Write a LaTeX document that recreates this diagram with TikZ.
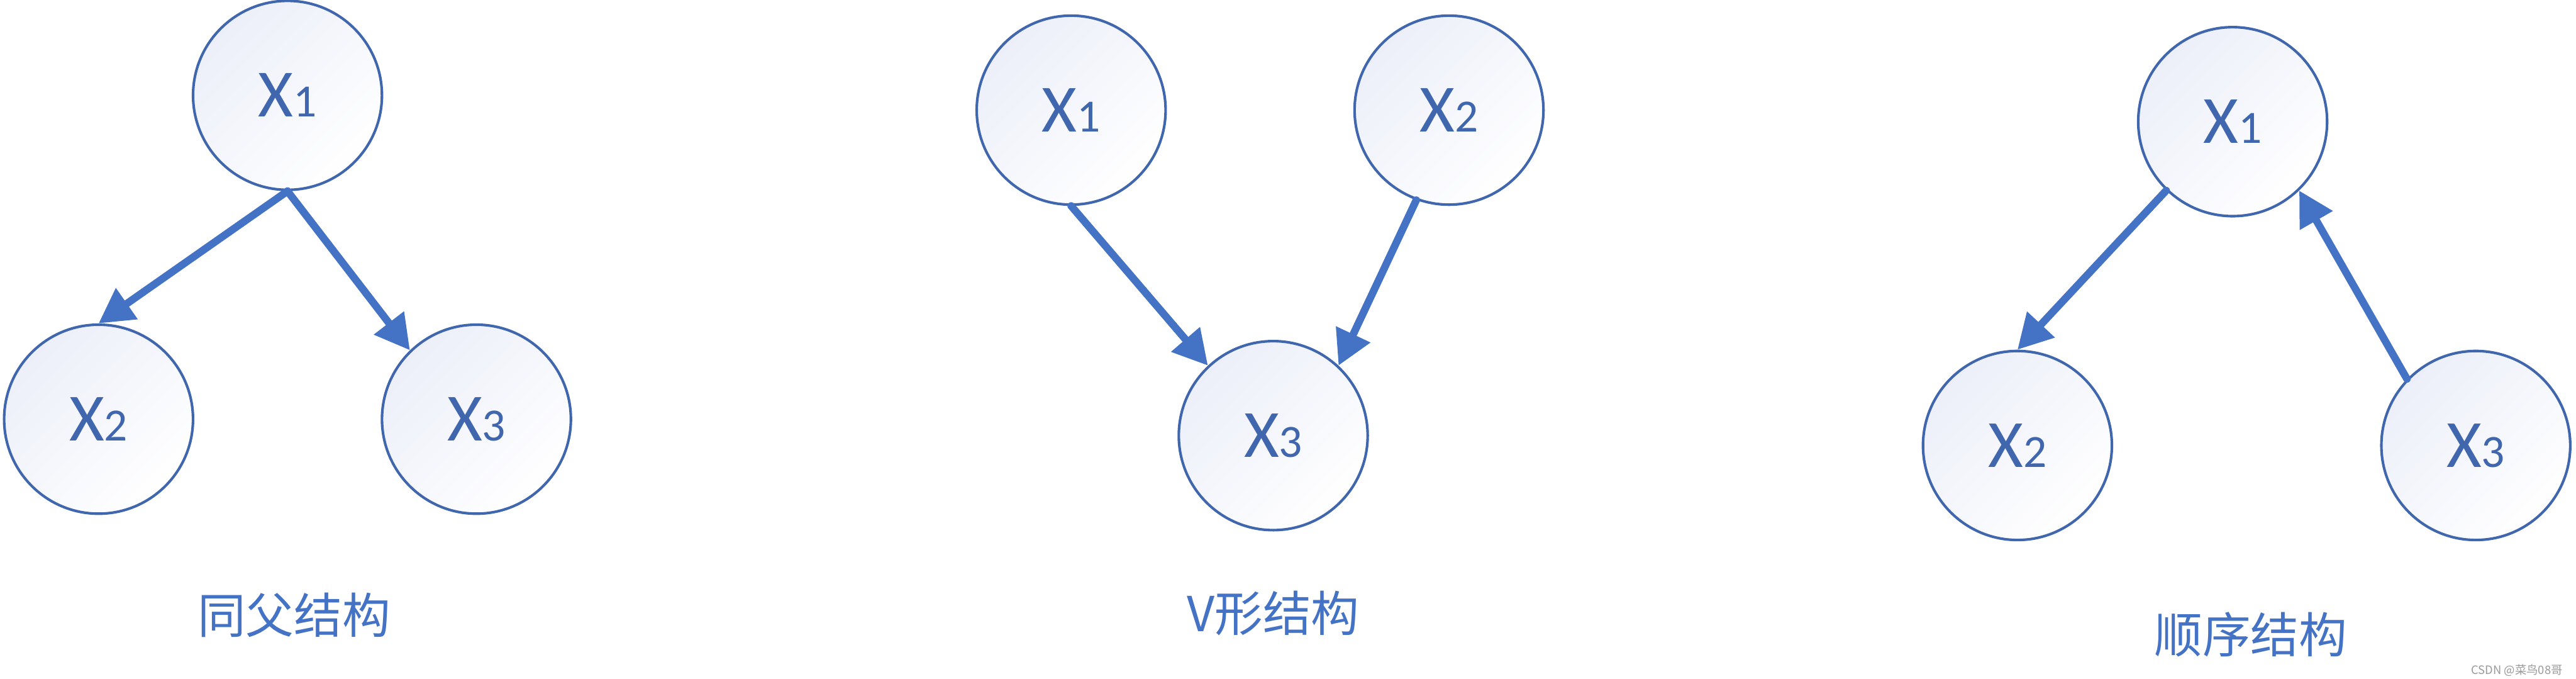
\documentclass[tikz,border=0pt]{standalone}
\usepackage{fontspec}
\setmainfont{Carlito}
\newfontfamily\cjk{Noto Sans CJK SC}
\usetikzlibrary{arrows.meta}
\definecolor{nodeblue}{HTML}{4067AE}
\definecolor{arrowblue}{HTML}{4472C4}
\definecolor{fillblue}{HTML}{ECEFF9}
\newcommand{\xsub}[1]{X{\fontsize{16pt}{16pt}\selectfont #1}}

\begin{document}
\begin{tikzpicture}[x=0.02cm, y=-0.02cm,
  var/.style={circle, draw=nodeblue, line width=0.9pt, minimum size=2.3cm, inner sep=0pt,
    top color=fillblue, bottom color=white, shading angle=45, text=nodeblue,
    font=\fontsize{23.4pt}{28pt}\selectfont},
  edge/.style={arrowblue, line width=2.6pt, line cap=round,
    -{Triangle[length=0.42cm, width=0.44cm]}},
  caption/.style={font=\cjk\fontsize{16.7pt}{20pt}\selectfont, text=arrowblue}]
  \useasboundingbox (0,0) rectangle (1568,413);

  % Common parent
  \node[var] (p1) at (175,58) {\xsub{1}};
  \node[var] (p2) at (60,255) {\xsub{2}};
  \node[var] (p3) at (290,255) {\xsub{3}};
  \draw[edge] (p1.-90) -- (p2.90);
  \draw[edge] (p1.-90) -- (p3.134);
  \node[caption] (pcap) at (179,374) {同父结构};

  % V-structure
  \node[var] (v1) at (652,67) {\xsub{1}};
  \node[var] (v2) at (882,67) {\xsub{2}};
  \node[var] (v3) at (775,265) {\xsub{3}};
  \draw[edge] (v1.-90) -- (v3.133);
  \draw[edge] (v2.250) -- (v3.47);
  \node[caption] (vcap) at (775,373) {V形结构};

  % Chain
  \node[var] (s1) at (1359,74) {\xsub{1}};
  \node[var] (s2) at (1228,271) {\xsub{2}};
  \node[var] (s3) at (1507,271) {\xsub{3}};
  \draw[edge] (s1.226) -- (s2.90);
  \draw[edge] (s3.136) -- (s1.314);
  \node[caption] (scap) at (1370,386) {顺序结构};

  % Watermark
  \node[anchor=east, text=gray!80, font=\cjk\fontsize{4pt}{5pt}\selectfont] (mark) at (1566,408) {CSDN @菜鸟08哥};
\end{tikzpicture}
\end{document}
